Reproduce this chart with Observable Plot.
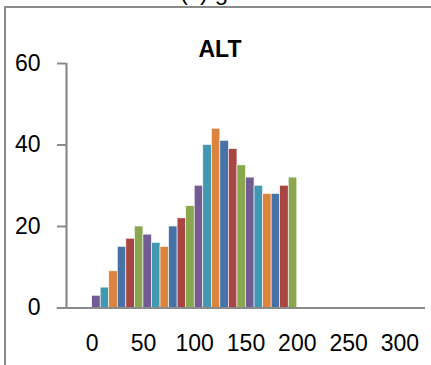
<!DOCTYPE html>
<html>
<head>
<meta charset="utf-8">
<script src="https://cdn.jsdelivr.net/npm/d3@7"></script>
<script src="https://cdn.jsdelivr.net/npm/@observablehq/plot@0.6"></script>
<style>
  html, body { margin: 0; padding: 0; background: #fff; overflow: hidden; }
  #wrap { position: relative; width: 431px; height: 365px; overflow: hidden; }
  #frame { position: absolute; left: 4px; top: 6px; width: 440px; height: 400px;
           border-left: 2.5px solid #8a8a8a; border-top: 2.5px solid #8a8a8a; box-sizing: border-box; }
  #caption { position: absolute; left: 180px; top: -20px; font: 24px "Liberation Sans", Arial, sans-serif; color: #000; line-height: 24px; }
  #title { position: absolute; left: 220px; top: 38px; transform: translateX(-50%);
           font: bold 23px "Liberation Sans", Arial, sans-serif; line-height: 23px; color: #000; white-space: nowrap; }
  #chart { position: absolute; left: 0; top: 0; }
</style>
</head>
<body>
<div id="wrap">
  <div id="caption">(c) g</div>
  <div id="frame"></div>
  <div id="title">ALT</div>
  <div id="chart"></div>
</div>
<script>
// Data
const values = [3, 5, 9, 15, 17, 20, 18, 16, 15, 20, 22, 25, 30, 40, 44, 41, 39, 35, 32, 30, 28, 28, 30, 32];
const palette = ["#735B93", "#4298B0", "#DB843D", "#4672A8", "#A94542", "#8AA64F"];
const xTicks = [0, 50, 100, 150, 200, 250, 300];
const yTicks = [0, 20, 40, 60];
const binSpan = 200; // the bars cover 0..200 on the x axis

const binW = binSpan / values.length;
const bars = values.map((v, i) => ({
  x1: i * binW,
  x2: (i + 1) * binW,
  y: v,
  color: palette[i % palette.length]
}));

const axisColor = "#8a8a8a";
const chart = Plot.plot({
  width: 431,
  height: 365,
  marginTop: 63,
  marginBottom: 57.5,
  marginLeft: 66,
  marginRight: 6,
  style: { fontFamily: "'Liberation Sans', Arial, sans-serif", fontSize: "23px", color: "#000", background: "transparent", overflow: "visible" },
  x: { domain: [-25, 325], ticks: xTicks, tickSize: 0, tickPadding: 27, label: null },
  y: { domain: [0, 60], ticks: yTicks, tickSize: 0, label: null },
  marks: [
    Plot.rectY(bars, { x1: "x1", x2: "x2", y1: 0, y2: "y", fill: "color", stroke: "#fff", strokeWidth: 0.6, insetLeft: 0, insetRight: 0 }),
    Plot.axisY({ ticks: yTicks, tickSize: 9, tickPadding: 17, stroke: axisColor, strokeWidth: 2, strokeOpacity: 1, color: "#000" }),
    Plot.ruleX([-25], { y1: 0, y2: 60, stroke: axisColor, strokeWidth: 2.2 }),
    Plot.ruleY([0], { x1: -34, x2: 325, stroke: axisColor, strokeWidth: 2 }),
    Plot.axisX({ ticks: xTicks, tickSize: 0, tickPadding: 27, color: "#000" })
  ]
});
document.getElementById("chart").appendChild(chart);
</script>
</body>
</html>
